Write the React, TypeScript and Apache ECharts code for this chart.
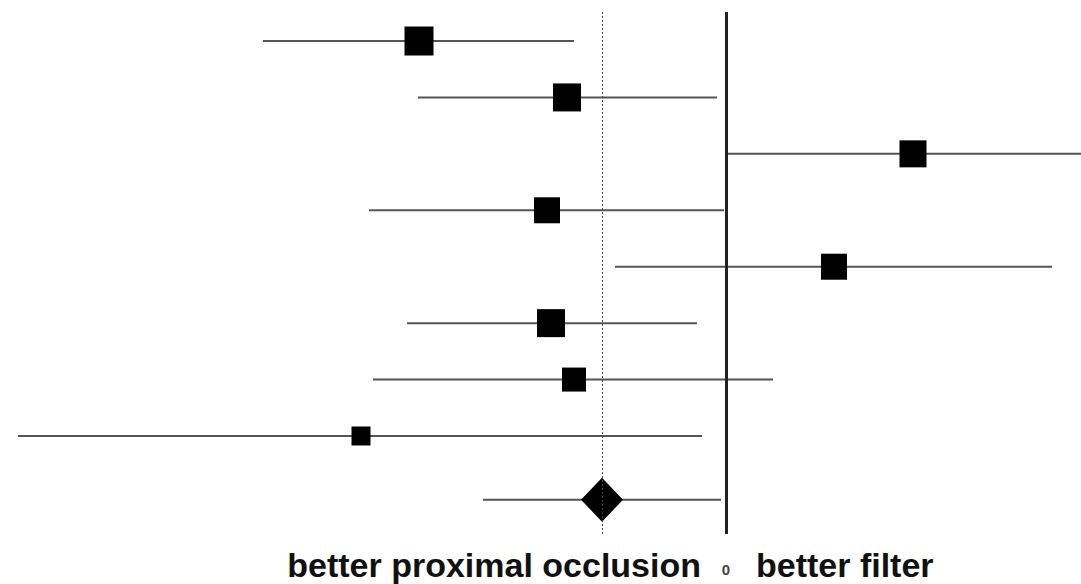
import React, { useEffect, useRef } from "react";
import * as echarts from "echarts";

const studies = ["S1", "S2", "S3", "S4", "S5", "S6", "S7", "S8"];
const estimates = [-3.07, -1.59, 1.87, -1.79, 1.08, -1.75, -1.52, -3.65];
const lower = [-4.63, -3.08, 0.02, -3.57, -1.11, -3.19, -3.53, -7.08];
const upper = [-1.52, -0.09, 3.7, -0.02, 3.26, -0.29, 0.47, -0.24];
const weights = [29, 28, 27, 26, 26, 28, 24, 19];
const pooledEst = -1.24;
const pooledLower = -2.43;
const pooledUpper = -0.05;
const pooledRow = 8.13;
const leftLabel = "better proximal occlusion";
const zeroLabel = "0";
const rightLabel = "better filter";

export default function App() {
  const ref = useRef<HTMLDivElement>(null);
  useEffect(() => {
    if (!ref.current) return;
    const chart = echarts.init(ref.current, null, { renderer: "svg" });
    const ciData = studies.map((_, i) => [lower[i], upper[i], i]);
    ciData.push([pooledLower, pooledUpper, pooledRow]);
    const sqData = studies.map((_, i) => ({ value: [estimates[i], i], symbolSize: weights[i] }));
    chart.setOption({
      animation: false,
      grid: { left: 0, right: 0, top: 12, bottom: 50 },
      xAxis: { type: "value", min: -7.26, max: 3.55, show: false },
      yAxis: { type: "value", inverse: true, min: -0.514, max: 8.737, show: false },
      series: [
        {
          type: "custom",
          clip: true,
          data: ciData,
          renderItem: (params: any, api: any) => {
            const a = api.coord([api.value(0), api.value(2)]);
            const b = api.coord([api.value(1), api.value(2)]);
            return {
              type: "line",
              shape: { x1: a[0], y1: a[1], x2: b[0], y2: b[1] },
              style: { stroke: "#555", lineWidth: 2 },
            };
          },
          markLine: {
            symbol: "none",
            silent: true,
            label: { show: false },
            data: [
              { xAxis: 0, lineStyle: { color: "#222", width: 3, type: "solid", opacity: 1 } },
              { xAxis: pooledEst, lineStyle: { color: "#444", width: 1, type: [2, 2], opacity: 1 } },
            ],
          },
        },
        {
          type: "scatter",
          symbol: "rect",
          data: sqData,
          itemStyle: { color: "#000", opacity: 1 },
        },
        {
          type: "scatter",
          symbol: "diamond",
          symbolSize: [42, 44],
          data: [[pooledEst, pooledRow]],
          itemStyle: { color: "#000", opacity: 1 },
        },
      ],
      graphic: [
        {
          type: "text",
          x: 701,
          y: 565,
          style: {
            text: leftLabel,
            font: "bold 34px 'Liberation Sans', Arial, sans-serif",
            fill: "#111",
            align: "right",
            verticalAlign: "middle",
          },
        },
        {
          type: "text",
          x: 726,
          y: 569,
          style: {
            text: zeroLabel,
            font: "bold 15px 'Liberation Sans', Arial, sans-serif",
            fill: "#444",
            align: "center",
            verticalAlign: "middle",
          },
        },
        {
          type: "text",
          x: 756,
          y: 565,
          style: {
            text: rightLabel,
            font: "bold 34px 'Liberation Sans', Arial, sans-serif",
            fill: "#111",
            align: "left",
            verticalAlign: "middle",
          },
        },
      ],
    });
    return () => chart.dispose();
  }, []);
  return (
    <div
      ref={ref}
      style={{ position: "absolute", left: 0, top: 0, width: 1081, height: 584, background: "#fff" }}
    />
  );
}
